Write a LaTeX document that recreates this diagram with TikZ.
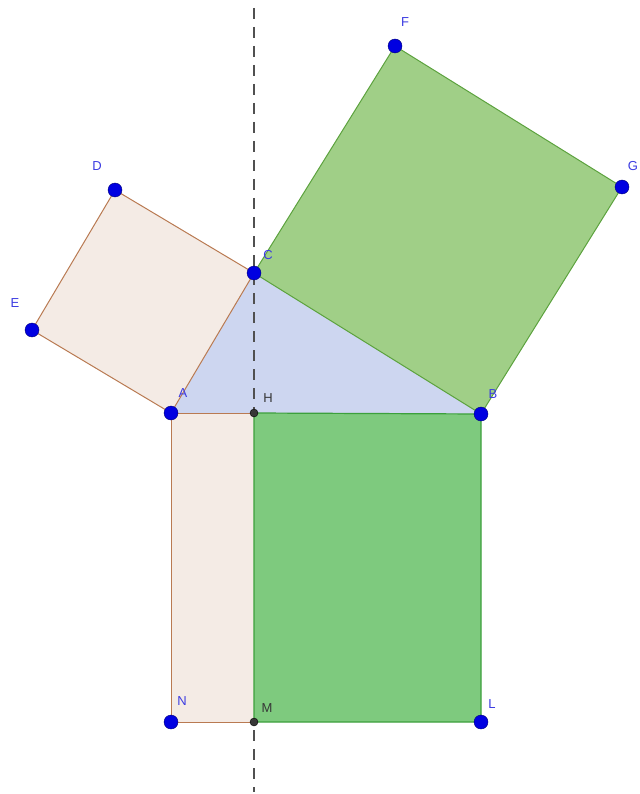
\documentclass[tikz,border=0pt]{standalone}
\usepackage{fontspec}
\newfontfamily\labfont{Liberation Sans}
\definecolor{tanfill}{RGB}{244,235,229}
\definecolor{tanedge}{RGB}{185,122,82}
\definecolor{trifill}{RGB}{205,214,240}
\definecolor{gtopfill}{RGB}{160,207,135}
\definecolor{gtopedge}{RGB}{92,162,62}
\definecolor{gbotfill}{RGB}{126,202,126}
\definecolor{gbotedge}{RGB}{60,160,60}
\definecolor{ptblue}{RGB}{0,0,225}
\definecolor{ptedge}{RGB}{0,0,120}
\definecolor{labblue}{RGB}{60,60,225}
\definecolor{darkpt}{RGB}{55,55,55}
\definecolor{dashgray}{RGB}{80,80,80}
\tikzset{
  bluept/.style={circle,fill=ptblue,draw=ptedge,line width=0.4pt,inner sep=0pt,minimum size=14pt},
  graypt/.style={circle,fill=darkpt,draw=black,line width=0.4pt,inner sep=0pt,minimum size=8pt},
  lab/.style={font=\labfont\fontsize{13}{14}\selectfont,text=labblue,inner sep=0pt},
  glab/.style={font=\labfont\fontsize{13}{14}\selectfont,text=darkpt,inner sep=0pt},
  tansq/.style={fill=tanfill,draw=tanedge,line width=1pt,line join=round},
  topsq/.style={fill=gtopfill,draw=gtopedge,line width=1pt,line join=round},
  botsq/.style={fill=gbotfill,draw=gbotedge,line width=1.2pt,line join=round},
  tri/.style={fill=trifill,draw=none},
  axisline/.style={draw=dashgray,line width=1.5pt,dash pattern=on 11pt off 8pt}
}
\begin{document}
\begin{tikzpicture}[x=1pt,y=-1pt]
\useasboundingbox (0,0) rectangle (639,794);
% coordinates
\coordinate (A) at (171,413);
\coordinate (B) at (481,414);
\coordinate (C) at (254,273);
\coordinate (D) at (115,190);
\coordinate (E) at (32,330);
\coordinate (F) at (395,46);
\coordinate (G) at (622,187);
\coordinate (H) at (254,413);
\coordinate (N) at (171,722);
\coordinate (M) at (254,722);
\coordinate (L) at (481,722);
\coordinate (T) at (254,8);
\coordinate (U) at (254,792);
% shapes
\path[tri] (A) -- (B) -- (C) -- cycle;
\draw[axisline] (T) -- (U);
\path[tansq] (A) -- (C) -- (D) -- (E) -- cycle;
\path[topsq] (C) -- (B) -- (G) -- (F) -- cycle;
\path[tansq] (A) -- (H) -- (M) -- (N) -- cycle;
\path[botsq] (H) -- (B) -- (L) -- (M) -- cycle;
\draw[tanedge,line width=1pt] (A) -- (H);
% points
\node[bluept] (pA) at (A) {};
\node[bluept] (pB) at (B) {};
\node[bluept] (pC) at (C) {};
\node[bluept] (pD) at (D) {};
\node[bluept] (pE) at (E) {};
\node[bluept] (pF) at (F) {};
\node[bluept] (pG) at (G) {};
\node[bluept] (pN) at (N) {};
\node[bluept] (pL) at (L) {};
\node[graypt] (pH) at (H) {};
\node[graypt] (pM) at (M) {};
% labels
\node[lab] (lA) at (183,393) {A};
\node[lab] (lB) at (493,394) {B};
\node[lab] (lC) at (268,255) {C};
\node[lab] (lD) at (97,166) {D};
\node[lab] (lE) at (15,303) {E};
\node[lab] (lF) at (405,22) {F};
\node[lab] (lG) at (633,166) {G};
\node[glab] (lH) at (268,398) {H};
\node[lab] (lN) at (182,701) {N};
\node[glab] (lM) at (267,708) {M};
\node[lab] (lL) at (492,704) {L};
\end{tikzpicture}
\end{document}
